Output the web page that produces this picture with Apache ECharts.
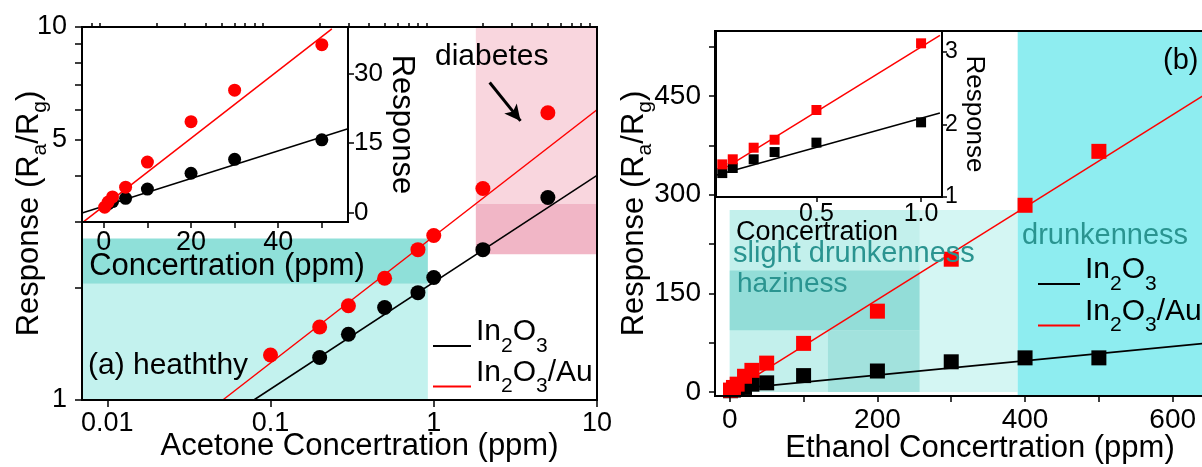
<!DOCTYPE html>
<html><head><meta charset="utf-8">
<script src="https://cdn.jsdelivr.net/npm/echarts@6/dist/echarts.min.js"></script>
<style>html,body{margin:0;padding:0;background:#fff}#c{width:1202px;height:467px}</style>
</head><body><div id="c"></div><script>
// ---------------- Panel (a): acetone, log-log ----------------
const acetoneConc_In2O3 = [0.2, 0.3, 0.5, 0.8, 1, 2, 5];
const acetoneResp_In2O3 = [1.30, 1.50, 1.77, 1.94, 2.13, 2.53, 3.49];
const acetoneConc_Au = [0.1, 0.2, 0.3, 0.5, 0.8, 1, 2, 5];
const acetoneResp_Au = [1.32, 1.57, 1.79, 2.12, 2.53, 2.76, 3.69, 5.89];
const acetoneFit_In2O3 = [[0.079, 1], [10, 4.0]];
const acetoneFit_Au = [[0.051, 1], [10, 6.0]];
const acetoneXTicks = [0.01, 0.1, 1, 10];
const acetoneXMinorTicks = [0.008, 0.009, 0.02, 0.03, 0.04, 0.05, 0.06, 0.07, 0.08, 0.09,
  0.2, 0.3, 0.4, 0.5, 0.6, 0.7, 0.8, 0.9, 2, 3, 4, 5, 6, 7, 8, 9];
const acetoneYTicks = [1, 2, 3, 4, 5, 6, 7, 8, 9, 10];
const acetoneYLabels = [1, 5, 10];

// inset (a): linear response vs concentration
const insetA_Conc_In2O3 = [1, 2, 5, 10, 20, 30, 50];
const insetA_Resp_In2O3 = [1.9, 2.4, 3.1, 5.1, 8.5, 11.5, 15.7];
const insetA_Conc_Au = [0.2, 1, 2, 5, 10, 20, 30, 50];
const insetA_Resp_Au = [1.2, 2.3, 3.4, 5.5, 10.9, 19.6, 26.4, 36.2];
const insetA_Fit_In2O3 = [[-4.8, 0], [56, 18.1]];
const insetA_Fit_Au = [[-4.6, -1.9], [52.3, 39.6]];
const insetA_XTicks = [0, 10, 20, 30, 40, 50];
const insetA_XLabels = [0, 20, 40];
const insetA_YTicks = [0, 15, 30];

// shaded regions (a)
const healthyX = [0.007, 0.92];
const healthyY = [1, 2.05];
const healthyBandY = [2.05, 2.71];
const diabetesX = [1.81, 10];
const diabetesY = [3.36, 10];
const diabetesBandY = [2.46, 3.36];
const diabetesArrow = [[2.2, 7.1], [3.4, 5.6]];

// ---------------- Panel (b): ethanol, linear ----------------
const ethanolConc = [1, 5, 10, 20, 30, 50, 100, 200, 300, 400, 500];
const ethanolResp_In2O3 = [2, 3, 5, 7, 12, 14, 25, 32, 46, 52, 52];
const ethanolResp_Au = [3, 7, 12, 24, 33, 44, 74, 123, 202, 284, 366];
const ethanolFit_In2O3 = [[0, 4], [660, 76]];
const ethanolFit_Au = [[0, 0], [660, 464]];
const ethanolXTicks = [0, 100, 200, 300, 400, 500, 600];
const ethanolXLabels = [0, 200, 400, 600];
const ethanolYTicks = [0, 75, 150, 225, 300, 375, 450, 525];
const ethanolYLabels = [0, 150, 300, 450];

// inset (b)
const insetB_Conc = [0.05, 0.1, 0.2, 0.3, 0.5, 1.0];
const insetB_Resp_In2O3 = [1.33, 1.40, 1.52, 1.62, 1.75, 2.03];
const insetB_Resp_Au = [1.45, 1.52, 1.68, 1.79, 2.20, 3.12];
const insetB_Fit_In2O3 = [[0.02, 1.30], [1.09, 2.16]];
const insetB_Fit_Au = [[0.03, 1.34], [1.09, 3.23]];
const insetB_XTicks = [0.5, 1.0];
const insetB_YTicks = [1, 2, 3];

// shaded regions (b)
const slightX = [0, 390];
const slightY = [0, 277];
const slightInnerX = [0, 257];
const hazinessX = [0, 257];
const hazinessY = [94, 185];
const hazinessLowX = [133, 257];
const hazinessLowY = [0, 94];
const drunkX = [390, 660];
const drunkY = [-6, 549];

// ---------------- styling ----------------
const F = '"Liberation Sans", Arial, sans-serif';
const C = {
  black: '#000000', red: '#ff0000',
  healthy: '#c3f2ee', healthyBand: '#8fe0d9',
  pink: '#f9d6de', pinkBand: '#f1b6c6',
  slight: '#d4f6f3', slightInner: '#c3f0ec', haz: '#93ddd8', hazLow: '#a2e2dd',
  drunk: '#8eedf0', teal: '#2a9490'
};
const zip = (xs, ys) => xs.map((x, i) => [x, ys[i]]);
const fmtNum = v => String(+(+v).toPrecision(6));

const axLine = () => ({ show: true, onZero: false, lineStyle: { color: '#000', width: 2 } });
const axTick = (vals, len) => ({ show: true, inside: false, length: len, customValues: vals, lineStyle: { color: '#000', width: 1.5 } });
const axLabel = (vals, size, margin, fmt) => ({ show: true, customValues: vals, formatter: fmt || fmtNum, color: '#000', fontFamily: F, fontSize: size, margin: margin });
const nameStyle = (size, extra) => Object.assign({ color: '#000', fontFamily: F, fontSize: size }, extra || {});

const respName = '{n|Response (R}{s|a}{n|/R}{s|g}{n|)}';
const respRich = {
  n: { fontFamily: F, fontSize: 31, lineHeight: 32, color: '#000' },
  s: { fontFamily: F, fontSize: 21, height: 10, lineHeight: 12, verticalAlign: 'bottom', color: '#000' }
};

const legendFmt = name => name === 'In2O3' ? '{n|In}{s|2}{n|O}{s|3}' : '{n|In}{s|2}{n|O}{s|3}{n|/Au}';
const legendRich = {
  n: { fontFamily: F, fontSize: 30, height: 16, lineHeight: 16, verticalAlign: 'top', color: '#000' },
  s: { fontFamily: F, fontSize: 21, lineHeight: 44, verticalAlign: 'middle', color: '#000' }
};

const area = (x, y, color) => [
  { xAxis: x[0], yAxis: y[0], itemStyle: { color: color, borderWidth: 0, opacity: 1 } },
  { xAxis: x[1], yAxis: y[1] }
];

const gridBase = { show: true, borderColor: '#000', borderWidth: 2, backgroundColor: 'transparent', z: 5, containLabel: false, outerBoundsMode: 'none' };

const option = {
  animation: false,
  textStyle: { fontFamily: F },
  grid: [
    Object.assign({ left: 82, top: 27, width: 515, height: 373 }, gridBase),
    Object.assign({ left: 82, top: 27, width: 266, height: 195 }, gridBase),
    Object.assign({ left: 715, top: 31, width: 502, height: 365 }, gridBase),
    Object.assign({ left: 716, top: 31, width: 226, height: 166 }, gridBase)
  ],
  xAxis: [
    { gridIndex: 0, type: 'log', logBase: 10, min: 0.007, max: 10, z: 6,
      axisLine: axLine(), axisTick: axTick(acetoneXTicks, 7),
      axisLabel: axLabel(acetoneXTicks, 27, 10), splitLine: { show: false },
      name: 'Acetone Concertration (ppm)', nameLocation: 'middle', nameGap: 31, nameMoveOverlap: false,
      nameTextStyle: nameStyle(31, { padding: [0, 0, 0, 40] }) },
    { gridIndex: 1, type: 'value', min: -5, max: 56, z: 6,
      axisLine: axLine(), axisTick: axTick(insetA_XTicks, 6),
      axisLabel: axLabel(insetA_XLabels, 27, 7), splitLine: { show: false },
      name: 'Concertration (ppm)', nameLocation: 'middle', nameGap: 29, nameMoveOverlap: false,
      nameTextStyle: nameStyle(31, { padding: [0, 0, 0, 24] }) },
    { gridIndex: 2, type: 'value', min: -20, max: 660, z: 6,
      axisLine: axLine(), axisTick: axTick(ethanolXTicks, 6),
      axisLabel: axLabel(ethanolXLabels, 28, 10), splitLine: { show: false },
      name: 'Ethanol Concertration (ppm)', nameLocation: 'middle', nameGap: 37, nameMoveOverlap: false,
      nameTextStyle: nameStyle(31, { padding: [0, 0, 0, 28] }) },
    { gridIndex: 3, type: 'value', min: 0.02, max: 1.1, z: 6,
      axisLine: axLine(), axisTick: axTick(insetB_XTicks, 5),
      axisLabel: axLabel(insetB_XTicks, 25, 5, v => (+v).toFixed(1)), splitLine: { show: false },
      name: 'Concertration', nameLocation: 'middle', nameGap: 22, nameMoveOverlap: false,
      nameTextStyle: nameStyle(27, { padding: [0, 24, 0, 0] }) },
    // minor ticks of the acetone log axis
    { gridIndex: 0, type: 'log', logBase: 10, min: 0.007, max: 10, z: 6,
      axisLine: { show: false, onZero: false }, axisTick: axTick(acetoneXMinorTicks, 4),
      axisLabel: { show: false }, splitLine: { show: false } }
  ],
  yAxis: [
    { gridIndex: 0, type: 'log', logBase: 10, min: 1, max: 10, z: 6,
      axisLine: axLine(), axisTick: axTick(acetoneYTicks, 7),
      axisLabel: axLabel(acetoneYLabels, 27, 15), splitLine: { show: false },
      name: respName, nameLocation: 'middle', nameGap: 37, nameRotate: 90, nameMoveOverlap: false,
      nameTextStyle: nameStyle(31, { rich: respRich }) },
    { gridIndex: 1, type: 'value', position: 'right', min: -2, max: 40, z: 6,
      axisLine: axLine(), axisTick: axTick(insetA_YTicks, 6),
      axisLabel: axLabel(insetA_YTicks, 26, 6), splitLine: { show: false },
      name: 'Response', nameLocation: 'middle', nameGap: 38, nameRotate: -90, nameMoveOverlap: false,
      nameTextStyle: nameStyle(31) },
    { gridIndex: 2, type: 'value', min: -6, max: 549, z: 6,
      axisLine: axLine(), axisTick: axTick(ethanolYTicks, 6),
      axisLabel: axLabel(ethanolYLabels, 28, 14), splitLine: { show: false },
      name: respName, nameLocation: 'middle', nameGap: 65, nameRotate: 90, nameMoveOverlap: false,
      nameTextStyle: nameStyle(31, { rich: respRich }) },
    { gridIndex: 3, type: 'value', position: 'right', min: 1, max: 3.29, z: 6,
      axisLine: axLine(), axisTick: axTick(insetB_YTicks, 5),
      axisLabel: axLabel(insetB_YTicks, 23, 3), splitLine: { show: false },
      name: 'Response', nameLocation: 'middle', nameGap: 19, nameRotate: -90, nameMoveOverlap: false,
      nameTextStyle: nameStyle(26) }
  ],
  legend: [
    { left: 428, top: 312, orient: 'vertical', itemGap: 1, itemWidth: 38, itemHeight: 2, icon: 'rect',
      selectedMode: false, data: ['In2O3', 'In2O3/Au'], formatter: legendFmt,
      textStyle: { color: '#000', fontFamily: F, fontSize: 30, rich: legendRich } },
    { left: 1033, top: 250, orient: 'vertical', itemGap: 2, itemWidth: 42, itemHeight: 2, icon: 'rect',
      selectedMode: false, data: ['In2O3', 'In2O3/Au'], formatter: legendFmt,
      textStyle: { color: '#000', fontFamily: F, fontSize: 30, rich: legendRich } }
  ],
  series: [
    // ---- panel (a) main ----
    { type: 'line', name: 'In2O3', xAxisIndex: 0, yAxisIndex: 0, data: acetoneFit_In2O3, symbol: 'none', silent: true, z: 3,
      lineStyle: { color: C.black, width: 1.5 }, itemStyle: { color: C.black },
      markArea: { silent: true, label: { show: false }, itemStyle: { borderWidth: 0 },
        data: [
          area(healthyX, healthyY, C.healthy),
          area(healthyX, healthyBandY, C.healthyBand),
          area(diabetesX, diabetesY, C.pink),
          area(diabetesX, diabetesBandY, C.pinkBand)
        ] } },
    { type: 'line', name: 'In2O3/Au', xAxisIndex: 0, yAxisIndex: 0, data: acetoneFit_Au, symbol: 'none', silent: true, z: 3,
      lineStyle: { color: C.red, width: 1.5 }, itemStyle: { color: C.red },
      markLine: { silent: true, symbol: ['none', 'arrow'], symbolSize: [12, 16], label: { show: false },
        lineStyle: { color: '#000', width: 3, type: 'solid' },
        data: [[{ coord: diabetesArrow[0] }, { coord: diabetesArrow[1] }]] } },
    { type: 'scatter', name: 'a-pts-In2O3', xAxisIndex: 0, yAxisIndex: 0, data: zip(acetoneConc_In2O3, acetoneResp_In2O3),
      symbol: 'circle', symbolSize: 15, itemStyle: { color: C.black, opacity: 1 }, silent: true, z: 4 },
    { type: 'scatter', name: 'a-pts-Au', xAxisIndex: 0, yAxisIndex: 0, data: zip(acetoneConc_Au, acetoneResp_Au),
      symbol: 'circle', symbolSize: 15, itemStyle: { color: C.red, opacity: 1 }, silent: true, z: 4 },
    // ---- panel (a) inset ----
    { type: 'line', name: 'ia-fit-In2O3', xAxisIndex: 1, yAxisIndex: 1, data: insetA_Fit_In2O3, symbol: 'none', silent: true, z: 3,
      lineStyle: { color: C.black, width: 1.5 } },
    { type: 'line', name: 'ia-fit-Au', xAxisIndex: 1, yAxisIndex: 1, data: insetA_Fit_Au, symbol: 'none', silent: true, z: 3,
      lineStyle: { color: C.red, width: 1.5 } },
    { type: 'scatter', name: 'ia-In2O3', xAxisIndex: 1, yAxisIndex: 1, data: zip(insetA_Conc_In2O3, insetA_Resp_In2O3),
      symbol: 'circle', symbolSize: 13, itemStyle: { color: C.black, opacity: 1 }, silent: true, z: 4 },
    { type: 'scatter', name: 'ia-Au', xAxisIndex: 1, yAxisIndex: 1, data: zip(insetA_Conc_Au, insetA_Resp_Au),
      symbol: 'circle', symbolSize: 13, itemStyle: { color: C.red, opacity: 1 }, silent: true, z: 4 },
    // ---- panel (b) main ----
    { type: 'line', name: 'In2O3', xAxisIndex: 2, yAxisIndex: 2, data: ethanolFit_In2O3, symbol: 'none', silent: true, z: 3,
      lineStyle: { color: C.black, width: 1.8 }, itemStyle: { color: C.black },
      markArea: { silent: true, label: { show: false }, itemStyle: { borderWidth: 0 },
        data: [
          area(slightX, slightY, C.slight),
          area(slightInnerX, slightY, C.slightInner),
          area(hazinessX, hazinessY, C.haz),
          area(hazinessLowX, hazinessLowY, C.hazLow),
          area(drunkX, drunkY, C.drunk)
        ] } },
    { type: 'line', name: 'In2O3/Au', xAxisIndex: 2, yAxisIndex: 2, data: ethanolFit_Au, symbol: 'none', silent: true, z: 3,
      lineStyle: { color: C.red, width: 1.5 }, itemStyle: { color: C.red } },
    { type: 'scatter', name: 'b-In2O3', xAxisIndex: 2, yAxisIndex: 2, data: zip(ethanolConc, ethanolResp_In2O3),
      symbol: 'rect', symbolSize: 15, itemStyle: { color: C.black, opacity: 1 }, silent: true, z: 4 },
    { type: 'scatter', name: 'b-Au', xAxisIndex: 2, yAxisIndex: 2, data: zip(ethanolConc, ethanolResp_Au),
      symbol: 'rect', symbolSize: 15, itemStyle: { color: C.red, opacity: 1 }, silent: true, z: 4 },
    // ---- panel (b) inset ----
    { type: 'line', name: 'ib-fit-In2O3', xAxisIndex: 3, yAxisIndex: 3, data: insetB_Fit_In2O3, symbol: 'none', silent: true, z: 3,
      lineStyle: { color: C.black, width: 1.5 } },
    { type: 'line', name: 'ib-fit-Au', xAxisIndex: 3, yAxisIndex: 3, data: insetB_Fit_Au, symbol: 'none', silent: true, z: 3,
      lineStyle: { color: C.red, width: 1.5 } },
    { type: 'scatter', name: 'ib-In2O3', xAxisIndex: 3, yAxisIndex: 3, data: zip(insetB_Conc, insetB_Resp_In2O3),
      symbol: 'rect', symbolSize: 10, itemStyle: { color: C.black, opacity: 1 }, silent: true, z: 4 },
    { type: 'scatter', name: 'ib-Au', xAxisIndex: 3, yAxisIndex: 3, data: zip(insetB_Conc, insetB_Resp_Au),
      symbol: 'rect', symbolSize: 10, itemStyle: { color: C.red, opacity: 1 }, silent: true, z: 4 }
  ],
  graphic: [
    { type: 'text', x: 88, y: 366, z: 10, silent: true, style: { text: '(a) heaththy', font: '30px ' + F, fill: '#000', verticalAlign: 'middle' } },
    { type: 'text', x: 435, y: 57, z: 10, silent: true, style: { text: 'diabetes', font: '30px ' + F, fill: '#000', verticalAlign: 'middle' } },
    { type: 'text', x: 1163, y: 61, z: 10, silent: true, style: { text: '(b)', font: '29px ' + F, fill: '#000', verticalAlign: 'middle' } },
    { type: 'text', x: 733, y: 254, z: 10, silent: true, style: { text: 'slight drunkenness', font: '29px ' + F, fill: C.teal, verticalAlign: 'middle' } },
    { type: 'text', x: 737, y: 284, z: 10, silent: true, style: { text: 'haziness', font: '28px ' + F, fill: C.teal, verticalAlign: 'middle' } },
    { type: 'text', x: 1022, y: 236, z: 10, silent: true, style: { text: 'drunkenness', font: '29px ' + F, fill: C.teal, verticalAlign: 'middle' } }
  ]
};

const chart = echarts.init(document.getElementById('c'), null, { renderer: 'canvas' });
chart.setOption(option);
</script></body></html>
